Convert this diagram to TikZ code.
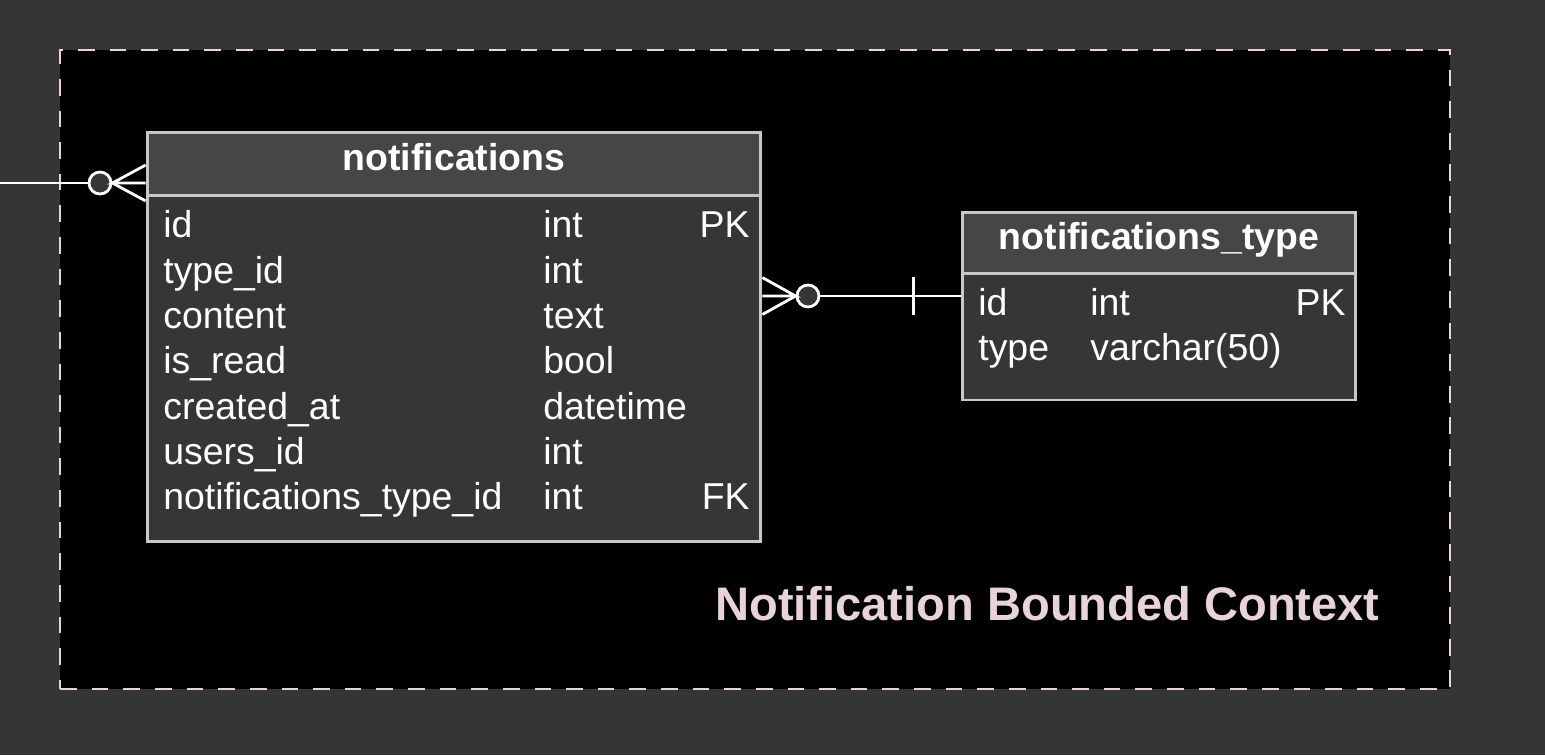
\documentclass[tikz,border=0pt]{standalone}
\usepackage{fontspec}
\setmainfont{Liberation Sans}
\usetikzlibrary{positioning}
\definecolor{canvas}{HTML}{353535}
\definecolor{headfill}{HTML}{464646}
\definecolor{bodyfill}{HTML}{363636}
\definecolor{tblline}{HTML}{C8C8C8}
\definecolor{ctxpink}{HTML}{E8D2DC}
\newcommand{\rowfont}{\fontsize{21.3}{25}\selectfont}

\begin{document}
\begin{tikzpicture}[
  x=0.02cm, y=-0.02cm,
  tbl/.style={rectangle, draw=tblline, line width=1.7pt, inner sep=0pt},
  head/.style={tbl, fill=headfill, text=white, font=\bfseries\rowfont,
               text height=15.4pt, text depth=8pt},
  body/.style={tbl, fill=bodyfill},
  cell/.style={anchor=base west, inner sep=0pt, text=white, font=\rowfont},
  key/.style={anchor=base east, inner sep=0pt, text=white, font=\rowfont},
  ctxbox/.style={rectangle, draw=ctxpink, fill=black, line width=1.3pt,
                 dash pattern=on 9.5pt off 8.5pt, inner sep=0pt},
  ctxlbl/.style={anchor=base east, inner sep=0pt, text=ctxpink,
                 font=\bfseries\fontsize{26.8}{32}\selectfont},
  link/.style={draw=white, line width=1.6pt},
  ring/.style={circle, draw=white, fill=bodyfill, line width=1.6pt,
               minimum size=0.44cm, inner sep=0pt}]
  \fill[canvas] (0,0) rectangle (1545,755);
  \useasboundingbox (0,0) rectangle (1545,755);

  % bounded context
  \node[ctxbox, minimum width=27.8cm, minimum height=12.78cm] (ctx) at (755,369.5) {};
  \node[ctxlbl] (ctxTitle) at (1380,620) {Notification Bounded Context};

  % notifications table
  \node[body, minimum width=12.28cm, minimum height=6.94cm] (notifBody) at (454,368.5) {};
  \node[head, minimum width=12.28cm, minimum height=1.26cm] (notif) at (454,163.5) {notifications};
  \node[cell] (nId) at (163,237) {id};
  \node[cell] (nIdT) at (543,237) {int};
  \node[key] (nIdK) at (750,237) {PK};
  \node[cell] (nType) at (163,283) {type\_id};
  \node[cell] (nTypeT) at (543,283) {int};
  \node[cell] (nContent) at (163,328) {content};
  \node[cell] (nContentT) at (543,328) {text};
  \node[cell] (nRead) at (163,373) {is\_read};
  \node[cell] (nReadT) at (543,373) {bool};
  \node[cell] (nCreated) at (163,419) {created\_at};
  \node[cell] (nCreatedT) at (543,419) {datetime};
  \node[cell] (nUsers) at (163,464) {users\_id};
  \node[cell] (nUsersT) at (543,464) {int};
  \node[cell] (nFk) at (163,509) {notifications\_type\_id};
  \node[cell] (nFkT) at (543,509) {int};
  \node[key] (nFkK) at (750,509) {FK};

  % notifications_type table
  \node[body, minimum width=7.88cm, minimum height=2.54cm] (typeBody) at (1159,336.5) {};
  \node[head, minimum width=7.88cm, minimum height=1.22cm] (type) at (1159,242.5) {notifications\_type};
  \node[cell] (tId) at (978,315) {id};
  \node[cell] (tIdT) at (1090,315) {int};
  \node[key] (tIdK) at (1346,315) {PK};
  \node[cell] (tType) at (978,360) {type};
  \node[cell] (tTypeT) at (1090,360) {varchar(50)};

  % users -> notifications
  \coordinate (users) at (0,183);
  \node[ring] (ringL) at (100,183) {};
  \draw[link] (users) -- (ringL);
  \draw[link] ([yshift=10.2pt]notif.west |- ringL) -- (ringL.east) -- (notif.west |- ringL);
  \draw[link] (ringL.east) -- ([yshift=-10.2pt]notif.west |- ringL);

  % notifications -> notifications_type
  \node[ring] (ringR) at (808,296) {};
  \draw[link] ([yshift=10.5pt]notifBody.east |- ringR) -- (ringR.west) -- (notifBody.east |- ringR);
  \draw[link] (ringR.west) -- ([yshift=-10.5pt]notifBody.east |- ringR);
  \draw[link] (ringR.east) -- (typeBody.west |- ringR);
  \coordinate (bar) at ([xshift=-26.7pt]typeBody.west |- ringR);
  \draw[link] ([yshift=11pt]bar) -- ([yshift=-11pt]bar);
\end{tikzpicture}
\end{document}
